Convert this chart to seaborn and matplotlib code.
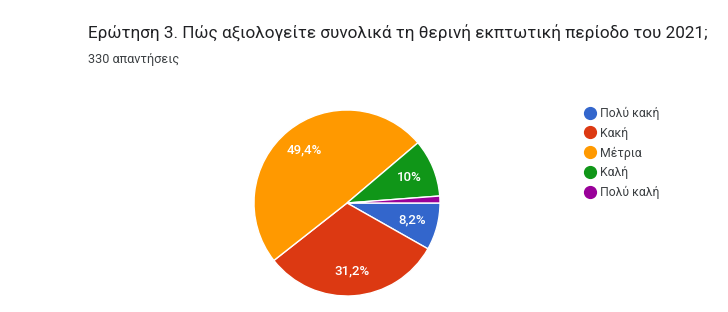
import matplotlib
matplotlib.use("Agg")
import matplotlib.pyplot as plt
from matplotlib.lines import Line2D
import seaborn as sns

categories = ["Πολύ κακή", "Κακή", "Μέτρια", "Καλή", "Πολύ καλή"]
values = [8.2, 31.2, 49.4, 10.0, 1.2]
colors = ["#3366cc", "#dc3912", "#ff9900", "#109618", "#990099"]
title = "Ερώτηση 3. Πώς αξιολογείτε συνολικά τη θερινή εκπτωτική περίοδο του 2021;"
subtitle = "330 απαντήσεις"

sns.set_theme(style="white")
plt.rcParams["font.family"] = ["Roboto", "DejaVu Sans"]

W, H = 728, 312
fig = plt.figure(figsize=(W / 100, H / 100), dpi=100)
fig.patch.set_facecolor("white")

cx, cy, r = 347, 203, 93
ax = fig.add_axes([(cx - r) / W, (H - cy - r) / H, 2 * r / W, 2 * r / H])


def fmt(p):
    if p < 5:
        return ""
    s = f"{p:.1f}".replace(".", ",")
    if s.endswith(",0"):
        s = s[:-2]
    return s + "%"


wedges, texts, autotexts = ax.pie(
    values, colors=colors, startangle=0, counterclock=False,
    autopct=fmt, pctdistance=0.73,
    wedgeprops=dict(edgecolor="white", linewidth=1),
    textprops=dict(color="white", fontsize=9.5, fontweight="medium"),
)
ax.set_xlim(-1, 1)
ax.set_ylim(-1, 1)
ax.set_aspect("equal")
ax.axis("off")

fig.text(88 / W, 1 - 33 / H, title, fontsize=12.3, color="#202124", va="center", ha="left")
fig.text(88 / W, 1 - 59 / H, subtitle, fontsize=9.1, color="#3c4043", va="center", ha="left")

handles = [Line2D([0], [0], marker="o", linestyle="", markersize=8.5,
                  markerfacecolor=c, markeredgecolor=c) for c in colors]
fig.legend(handles, categories, loc="upper left",
           bbox_to_anchor=(578 / W, 1 - 102 / H), frameon=False,
           fontsize=8.8, labelcolor="#3c4043", handletextpad=0.2,
           labelspacing=0.55, handlelength=1.2, borderaxespad=0)

fig.savefig("out.png", dpi=100, facecolor="white")
